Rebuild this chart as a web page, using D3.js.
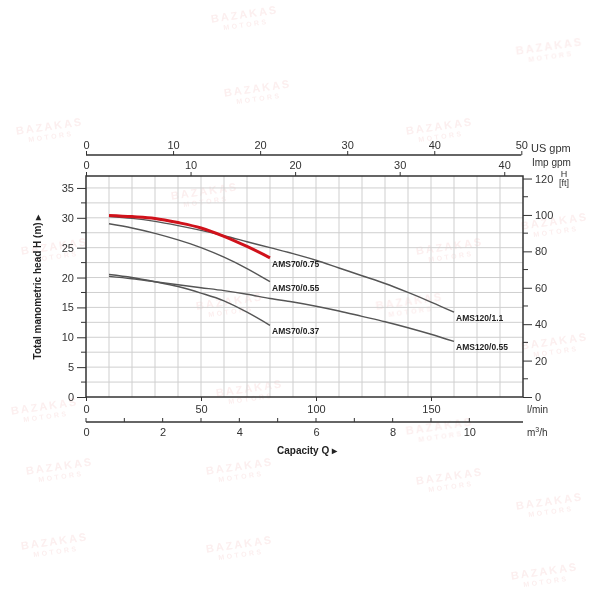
<!DOCTYPE html>
<html><head><meta charset="utf-8">
<script src="https://cdn.jsdelivr.net/npm/d3@7/dist/d3.min.js"></script>
<style>body{margin:0;background:#fff}svg{display:block;font-family:"Liberation Sans",Arial,sans-serif}</style>
</head><body><svg id="c" width="600" height="600"></svg>
<script>
// Data (Q in l/min, H in m)
const flowLmin = [10,20,30,40,50,60,70,80,90,100,110,120,130,140,150,160];
const seriesNames = ["AMS70/0.75","AMS70/0.55","AMS70/0.37","AMS120/1.1","AMS120/0.55"];
const h_AMS70_075 = [30.4,30.2,29.9,29.2,28.3,26.9,25.2,23.3];
const h_AMS70_055 = [29.0,28.3,27.4,26.3,25.0,23.4,21.5,19.3];
const h_AMS70_037 = [20.5,20.0,19.3,18.5,17.4,16.1,14.2,12.0];
const h_AMS120_11 = [30.2,29.9,29.4,28.7,27.9,27.0,26.0,25.0,24.0,22.9,21.6,20.3,19.0,17.5,15.9,14.2];
const h_AMS120_055 = [20.2,19.8,19.3,18.8,18.3,17.8,17.2,16.5,15.9,15.2,14.4,13.5,12.6,11.6,10.5,9.3];
const seriesValues = [h_AMS70_075,h_AMS70_055,h_AMS70_037,h_AMS120_11,h_AMS120_055];
const leftTicks = [0,5,10,15,20,25,30,35];
const rightTicks = [0,20,40,60,80,100,120];
const lminTicks = [0,50,100,150];
const m3hTicks = [0,2,4,6,8,10];
const usTicks = [0,10,20,30,40,50];
const impTicks = [0,10,20,30,40];
const wmPos = [[245,18],[550,50],[258,92],[50,130],[440,130],[205,195],[555,225],[55,250],[450,250],[230,305],[410,305],[555,345],[250,392],[45,410],[440,430],[550,505],[240,548],[55,545],[450,480],[545,575],[240,470],[60,470]];

const svg = d3.select("#c");
const L=86,R=523,T=176,B=397;
const x = d3.scaleLinear().domain([0,190]).range([L,R]);
const y = d3.scaleLinear().domain([0,37]).range([B,T]);
const yFt = d3.scaleLinear().domain([0,37*3.28084]).range([B,T]);
const xUS = d3.scaleLinear().domain([0,190/3.78541]).range([L,R]);
const xImp = d3.scaleLinear().domain([0,190/4.54609]).range([L,R]);
const xM3 = d3.scaleLinear().domain([0,190/16.6667]).range([L,R]);

// watermark
const wm = svg.append("g").attr("fill","#f0b4b4").attr("opacity",0.22).attr("font-weight","bold");
wmPos.forEach(p=>{
  const g = wm.append("g").attr("transform",`translate(${p[0]},${p[1]}) rotate(-8)`);
  g.append("text").attr("text-anchor","middle").attr("font-size",11).attr("letter-spacing",2).text("BAZAKAS");
  g.append("text").attr("text-anchor","middle").attr("y",9).attr("font-size",7).attr("letter-spacing",2.5).text("MOTORS");
});

// grid
const grid = svg.append("g").attr("stroke","#cfcfcf").attr("stroke-width",1);
d3.range(10,190,10).forEach(v=>grid.append("line").attr("x1",x(v)).attr("x2",x(v)).attr("y1",T).attr("y2",B));
d3.range(2.5,37,2.5).forEach(v=>grid.append("line").attr("x1",L).attr("x2",R).attr("y1",y(v)).attr("y2",y(v)));

const axisStyle = g=>{g.selectAll("path").attr("stroke","#333").attr("stroke-width",1.3);
  g.selectAll("line").attr("stroke","#333");
  g.selectAll("text").attr("fill","#333").attr("font-size",11);};

// left axis
const la = svg.append("g").attr("transform",`translate(${L},0)`);
la.call(d3.axisLeft(y).tickValues(leftTicks).tickSize(9).tickSizeOuter(0).tickPadding(3)).call(axisStyle);
la.select("path").remove();
la.selectAll(".minor").data(d3.range(2.5,37,5)).enter().append("line").attr("x1",-5).attr("x2",0)
  .attr("y1",d=>y(d)).attr("y2",d=>y(d)).attr("stroke","#333");

// right axis (ft)
const ra = svg.append("g").attr("transform",`translate(${R},0)`);
ra.call(d3.axisRight(yFt).tickValues(rightTicks).tickSize(9).tickSizeOuter(0).tickPadding(3)).call(axisStyle);
ra.select("path").remove();
ra.selectAll(".minor").data(d3.range(10,120,20)).enter().append("line").attr("x1",0).attr("x2",5)
  .attr("y1",d=>yFt(d)).attr("y2",d=>yFt(d)).attr("stroke","#333");
svg.append("text").attr("x",564).attr("y",177).attr("text-anchor","middle").attr("font-size",9).attr("fill","#333").text("H");
svg.append("text").attr("x",564).attr("y",186).attr("text-anchor","middle").attr("font-size",9).attr("fill","#333").text("[ft]");

// bottom l/min axis
const ba = svg.append("g").attr("transform",`translate(0,${B})`);
ba.call(d3.axisBottom(x).tickValues(lminTicks).tickSize(4).tickSizeOuter(0).tickPadding(4)).call(axisStyle);
ba.select("path").remove();
svg.append("text").attr("x",527).attr("y",413).attr("font-size",10).attr("fill","#333").text("l/min");

// m3/h axis
const ma = svg.append("g").attr("transform",`translate(0,422)`);
ma.call(d3.axisBottom(xM3).tickValues(m3hTicks).tickSize(0).tickSizeOuter(0).tickPadding(6)).call(axisStyle);
ma.select("path").attr("d",`M${L},0H${R}`);
ma.selectAll(".mt").data(d3.range(0,11,1)).enter().append("line").attr("x1",d=>xM3(d)).attr("x2",d=>xM3(d))
  .attr("y1",-4).attr("y2",0).attr("stroke","#333");
const m3t = svg.append("text").attr("x",527).attr("y",436).attr("font-size",10).attr("fill","#333");
m3t.append("tspan").text("m");
m3t.append("tspan").attr("font-size",7).attr("dy",-4).text("3");
m3t.append("tspan").attr("dy",4).text("/h");

// US gpm axis
const ua = svg.append("g").attr("transform",`translate(0,155)`);
ua.call(d3.axisTop(xUS).tickValues(usTicks).tickSize(4).tickSizeOuter(0).tickPadding(2)).call(axisStyle);
ua.select("path").attr("d",`M${L},0H${xUS(50)}`);
svg.append("text").attr("x",531).attr("y",152).attr("font-size",11).attr("fill","#333").text("US gpm");

// Imp gpm axis
const ia = svg.append("g").attr("transform",`translate(0,${T})`);
ia.call(d3.axisTop(xImp).tickValues(impTicks).tickSize(4).tickSizeOuter(0).tickPadding(3)).call(axisStyle);
ia.select("path").remove();
svg.append("text").attr("x",532).attr("y",166).attr("font-size",10).attr("fill","#333").text("Imp gpm");

// frame
svg.append("rect").attr("x",L).attr("y",T).attr("width",R-L).attr("height",B-T)
  .attr("fill","none").attr("stroke","#333").attr("stroke-width",1.5);

// curves
const line = d3.line().x(d=>x(d[0])).y(d=>y(d[1])).curve(d3.curveMonotoneX);
const colors = ["#d0121b","#555","#555","#555","#555"];
const widths = [3,1.4,1.4,1.4,1.4];
const order = [1,2,3,4,0];
order.forEach(i=>{
  const pts = seriesValues[i].map((h,k)=>[flowLmin[k],h]);
  svg.append("path").attr("d",line(pts)).attr("fill","none").attr("stroke",colors[i]).attr("stroke-width",widths[i]);
});
seriesValues.forEach((vals,i)=>{
  const q = flowLmin[vals.length-1], h = vals[vals.length-1];
  svg.append("text").attr("x",x(q)+2).attr("y",y(h)+9).attr("font-size",8.5).attr("font-weight","bold")
    .attr("fill","#222").text(seriesNames[i]);
});

// axis titles
svg.append("text").attr("transform","translate(41,287) rotate(-90)").attr("text-anchor","middle")
  .attr("font-size",10).attr("font-weight","bold").attr("fill","#222").text("Total manometric head H (m)  \u25B8");
svg.append("text").attr("x",307).attr("y",454).attr("text-anchor","middle")
  .attr("font-size",10).attr("font-weight","bold").attr("fill","#222").text("Capacity Q   \u25B8");
</script></body></html>
